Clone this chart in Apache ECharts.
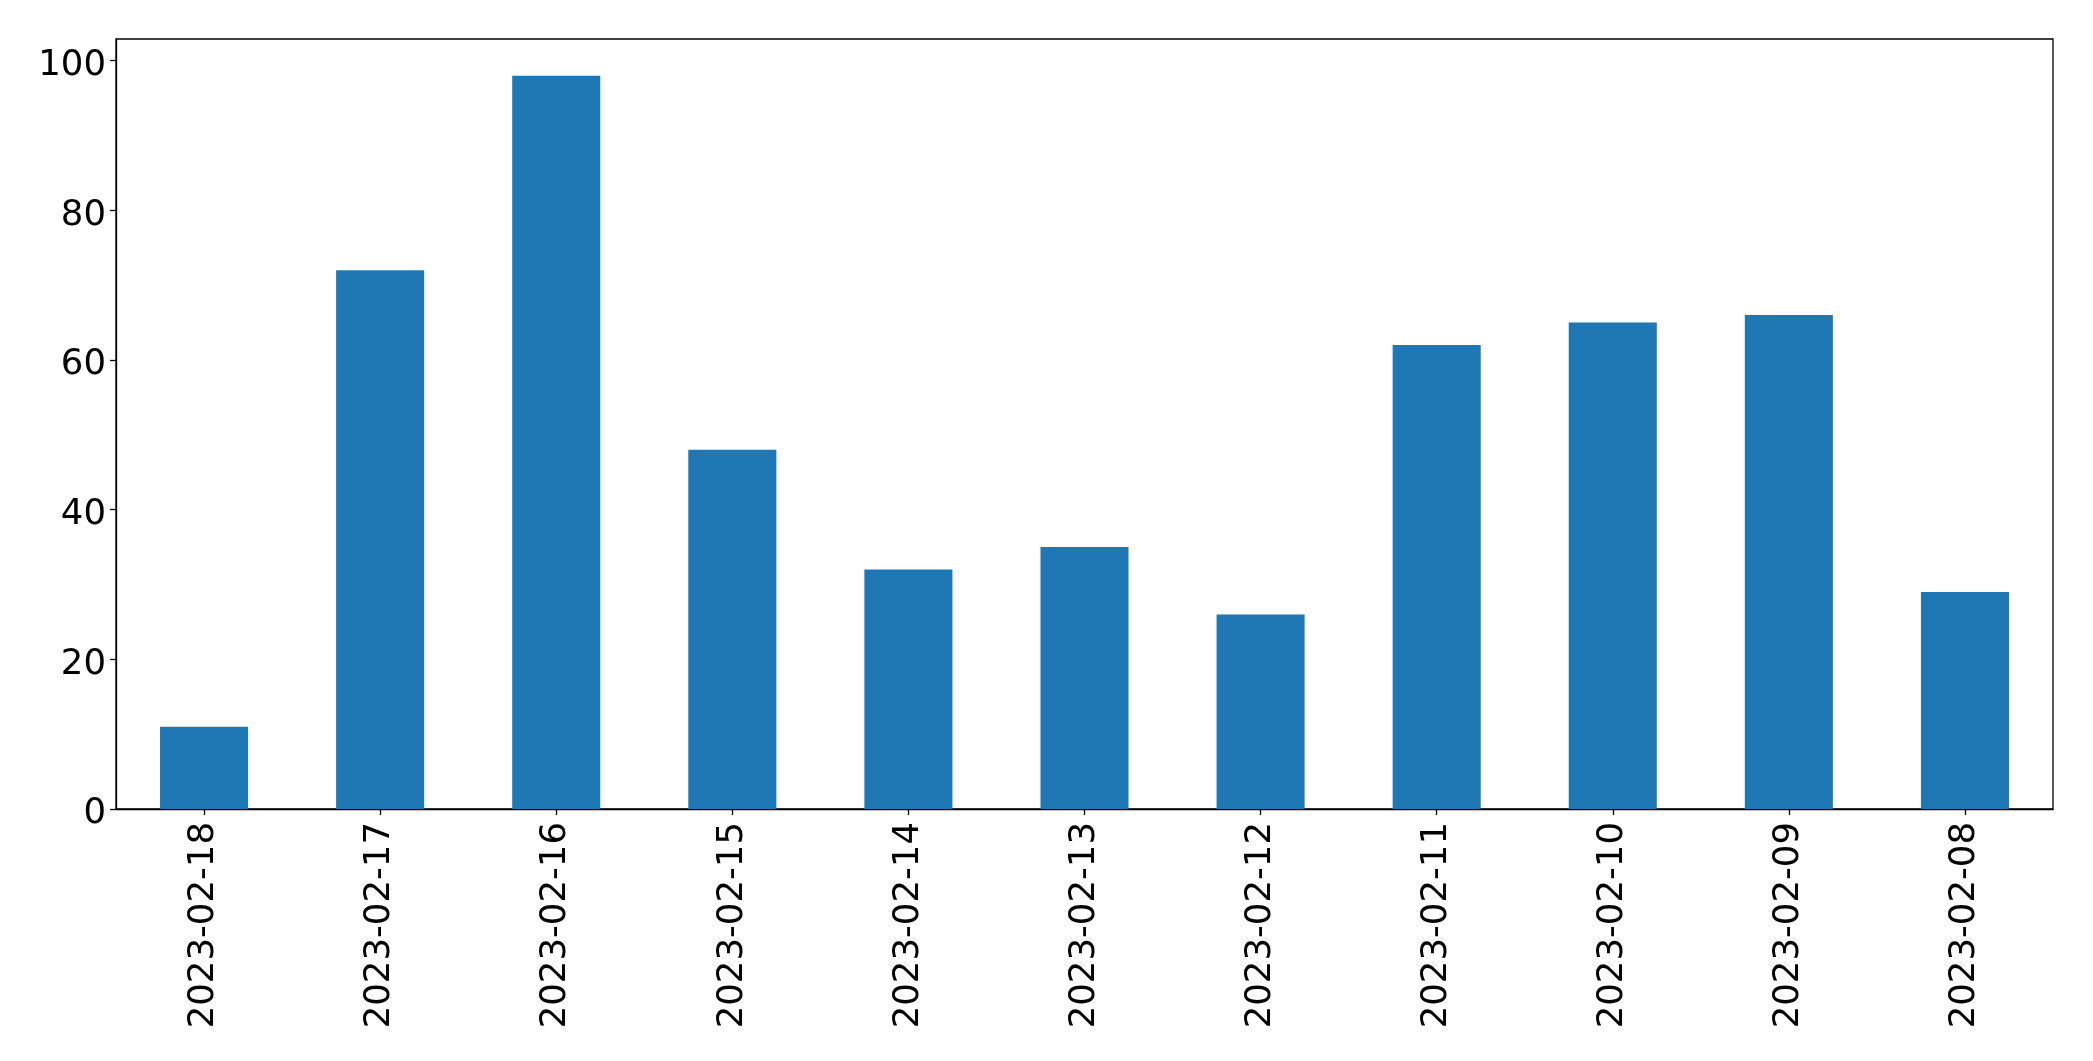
<!DOCTYPE html>
<html>
<head>
<meta charset="utf-8">
<script src="https://cdn.jsdelivr.net/npm/echarts@6/dist/echarts.min.js"></script>
<style>
html,body{margin:0;padding:0;background:#fff;}
#chart{width:2093px;height:1061px;}
</style>
</head>
<body>
<div id="chart"></div>
<script>
const categories = ["2023-02-18","2023-02-17","2023-02-16","2023-02-15","2023-02-14","2023-02-13","2023-02-12","2023-02-11","2023-02-10","2023-02-09","2023-02-08"];
const values = [11, 72, 98, 48, 32, 35, 26, 62, 65, 66, 29];
const yTicks = [0, 20, 40, 60, 80, 100];

const chart = echarts.init(document.getElementById('chart'), null, {renderer: 'canvas'});
const font = 'DejaVu Sans';
chart.setOption({
  animation: false,
  backgroundColor: '#fff',
  grid: {
    left: 116, top: 39, right: 40, bottom: 252,
    show: true, borderColor: '#000', borderWidth: 1.3, backgroundColor: 'transparent'
  },
  xAxis: {
    type: 'category',
    data: categories,
    boundaryGap: true,
    axisLine: {show: true, lineStyle: {color: '#000', width: 1.3}},
    axisTick: {show: true, alignWithLabel: true, length: 6, lineStyle: {color: '#000', width: 1.3}},
    axisLabel: {rotate: 90, margin: 13, color: '#000', fontSize: 35.5, fontFamily: font},
    splitLine: {show: false}
  },
  yAxis: {
    type: 'value',
    min: 0,
    max: 102.9,
    axisLine: {show: true, lineStyle: {color: '#000', width: 1.3}},
    axisTick: {show: true, length: 6, customValues: yTicks, lineStyle: {color: '#000', width: 1.3}},
    axisLabel: {margin: 10, color: '#000', fontSize: 35.5, fontFamily: font, customValues: yTicks, verticalAlign: 'top', lineHeight: 10},
    splitLine: {show: false}
  },
  series: [{
    type: 'bar',
    data: values,
    barWidth: '50%',
    itemStyle: {color: '#1f77b4'}
  }]
});
</script>
</body>
</html>
